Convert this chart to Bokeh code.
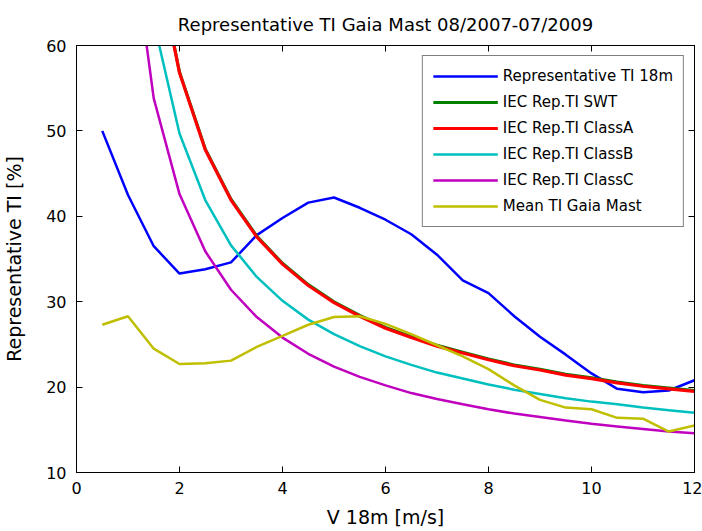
from bokeh.plotting import figure
from bokeh.models import Range1d, LinearAxis, FixedTicker, Legend, LegendItem
from bokeh.embed import file_html
from bokeh.resources import INLINE

# wind speed bins [m/s]
wind_speed = [0.5, 1.0, 1.5, 2.0, 2.5, 3.0, 3.5, 4.0, 4.5, 5.0, 5.5, 6.0,
              6.5, 7.0, 7.5, 8.0, 8.5, 9.0, 9.5, 10.0, 10.5, 11.0, 11.5, 12.0]

rep_ti_18m = [50.0, 42.5, 36.5, 33.3, 33.8, 34.6, 37.8, 39.8, 41.6, 42.2, 41.0, 39.6,
              37.9, 35.5, 32.5, 31.0, 28.3, 25.9, 23.8, 21.6, 19.8, 19.4, 19.6, 20.8]
iec_swt = [191.4, 101.7, 71.8, 56.9, 47.9, 42.0, 37.7, 34.5, 32.0, 30.0, 28.4, 27.0,
           25.9, 24.9, 24.1, 23.3, 22.6, 22.1, 21.5, 21.1, 20.6, 20.2, 19.9, 19.6]
iec_class_a = [191.2, 101.6, 71.7, 56.8, 47.8, 41.9, 37.6, 34.4, 31.9, 29.9, 28.3, 26.9,
               25.8, 24.8, 24.0, 23.2, 22.5, 22.0, 21.4, 21.0, 20.5, 20.1, 19.8, 19.5]
iec_class_b = [167.3, 88.9, 62.8, 49.7, 41.9, 36.6, 32.9, 30.1, 27.9, 26.2, 24.8, 23.6,
               22.6, 21.7, 21.0, 20.3, 19.7, 19.2, 18.7, 18.3, 18.0, 17.6, 17.3, 17.0]
iec_class_c = [143.4, 76.2, 53.8, 42.6, 35.9, 31.4, 28.2, 25.8, 23.9, 22.4, 21.2, 20.2,
               19.3, 18.6, 18.0, 17.4, 16.9, 16.5, 16.1, 15.7, 15.4, 15.1, 14.8, 14.6]
mean_ti_gaia = [27.3, 28.3, 24.5, 22.7, 22.8, 23.1, 24.7, 26.0, 27.3, 28.2, 28.3, 27.4,
                26.2, 24.9, 23.6, 22.1, 20.2, 18.5, 17.6, 17.4, 16.4, 16.3, 14.8, 15.5]

series_labels = ["Representative TI 18m", "IEC Rep.TI SWT", "IEC Rep.TI ClassA",
                 "IEC Rep.TI ClassB", "IEC Rep.TI ClassC", "Mean TI Gaia Mast"]
x_ticks = [0, 2, 4, 6, 8, 10, 12]
y_ticks = [10, 20, 30, 40, 50, 60]

FONT = "DejaVu Sans"

p = figure(width=702, height=531, output_backend="svg", toolbar_location=None,
           x_range=Range1d(0, 12), y_range=Range1d(10, 60),
           title="Representative TI Gaia Mast 08/2007-07/2009",
           min_border_left=76, min_border_right=8, min_border_top=45, min_border_bottom=59)
p.background_fill_color = "white"
p.border_fill_color = "white"
p.outline_line_color = "black"
p.xgrid.visible = False
p.ygrid.visible = False

p.title.align = "center"
p.title.text_font = FONT
p.title.text_font_size = "18px"
p.title.text_font_style = "normal"
p.title.text_color = "black"
p.title.standoff = 22

for ax, ticks in ((p.xaxis[0], x_ticks), (p.yaxis[0], y_ticks)):
    ax.ticker = FixedTicker(ticks=ticks)
    ax.major_tick_in = 6
    ax.major_tick_out = 0
    ax.minor_tick_line_color = None
    ax.axis_line_color = "black"
    ax.major_tick_line_color = "black"
    ax.major_label_text_font = FONT
    ax.major_label_text_font_size = "16px"
    ax.major_label_text_color = "black"
    ax.axis_label_text_font = FONT
    ax.axis_label_text_font_size = "19px"
    ax.axis_label_text_font_style = "normal"
    ax.axis_label_text_color = "black"

p.xaxis[0].axis_label = "V 18m [m/s]"
p.yaxis[0].axis_label = "Representative TI [%]"
p.xaxis[0].major_label_standoff = 9
p.yaxis[0].major_label_standoff = 10
p.xaxis[0].axis_label_standoff = 9
p.yaxis[0].axis_label_standoff = 18

top_axis = LinearAxis(ticker=FixedTicker(ticks=x_ticks), major_tick_in=6, major_tick_out=0,
                      minor_tick_line_color=None, major_label_overrides={t: "" for t in x_ticks},
                      major_label_text_font_size="4px",
                      major_label_standoff=0, axis_line_color="black")
right_axis = LinearAxis(ticker=FixedTicker(ticks=y_ticks), major_tick_in=6, major_tick_out=0,
                        minor_tick_line_color=None, major_label_overrides={t: "" for t in y_ticks},
                        major_label_text_font_size="4px",
                        major_label_standoff=0, axis_line_color="black")
p.add_layout(top_axis, "above")
p.add_layout(right_axis, "right")

colors = ["#0000FF", "#008000", "#FF0000", "#00BFBF", "#BF00BF", "#BFBF00"]
widths = [2.5, 3, 3.2, 2.5, 2.5, 2.5]
data = [rep_ti_18m, iec_swt, iec_class_a, iec_class_b, iec_class_c, mean_ti_gaia]

items = []
for lab, ys, c, w in zip(series_labels, data, colors, widths):
    r = p.line(wind_speed, ys, line_color=c, line_width=w)
    items.append(LegendItem(label=lab, renderers=[r]))

legend = Legend(items=items, location="top_right")
legend.label_text_font = FONT
legend.label_text_font_size = "15px"
legend.label_text_color = "black"
legend.glyph_width = 65
legend.glyph_height = 20
legend.label_height = 20
legend.spacing = 6
legend.padding = 10
legend.margin = 10
legend.label_standoff = 5
legend.border_line_color = "black"
legend.border_line_width = 1
legend.background_fill_color = "white"
p.add_layout(legend, "center")

open("out.html", "w").write(file_html(p, INLINE))
